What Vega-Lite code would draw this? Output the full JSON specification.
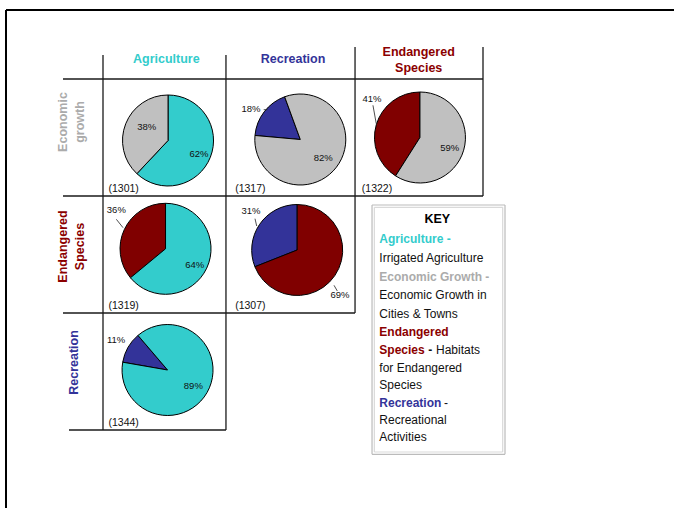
{
  "$schema": "https://vega.github.io/schema/vega-lite/v6.json",
  "width": 674,
  "height": 508,
  "autosize": "none",
  "padding": 0,
  "background": "white",
  "config": {
    "view": {"stroke": null},
    "axis": {"disable": true},
    "text": {"font": "Liberation Sans, Arial, sans-serif"}
  },
  "datasets": {
    "slices": [
      {"row": "Economic growth", "column": "Agriculture", "segment": "Agriculture", "share": 0.62},
      {"row": "Economic growth", "column": "Agriculture", "segment": "Economic Growth", "share": 0.38},
      {"row": "Economic growth", "column": "Recreation", "segment": "Recreation", "share": 0.18},
      {"row": "Economic growth", "column": "Recreation", "segment": "Economic Growth", "share": 0.82},
      {"row": "Economic growth", "column": "Endangered Species", "segment": "Endangered Species", "share": 0.41},
      {"row": "Economic growth", "column": "Endangered Species", "segment": "Economic Growth", "share": 0.59},
      {"row": "Endangered Species", "column": "Agriculture", "segment": "Endangered Species", "share": 0.36},
      {"row": "Endangered Species", "column": "Agriculture", "segment": "Agriculture", "share": 0.64},
      {"row": "Endangered Species", "column": "Recreation", "segment": "Recreation", "share": 0.31},
      {"row": "Endangered Species", "column": "Recreation", "segment": "Endangered Species", "share": 0.69},
      {"row": "Recreation", "column": "Agriculture", "segment": "Recreation", "share": 0.11},
      {"row": "Recreation", "column": "Agriculture", "segment": "Agriculture", "share": 0.89}
    ],
    "cells": [
      {"row": "Economic growth", "column": "Agriculture", "n": "(1301)"},
      {"row": "Economic growth", "column": "Recreation", "n": "(1317)"},
      {"row": "Economic growth", "column": "Endangered Species", "n": "(1322)"},
      {"row": "Endangered Species", "column": "Agriculture", "n": "(1319)"},
      {"row": "Endangered Species", "column": "Recreation", "n": "(1307)"},
      {"row": "Recreation", "column": "Agriculture", "n": "(1344)"}
    ],
    "columns": [
      {"column": "Agriculture"},
      {"column": "Recreation"},
      {"column": "Endangered Species"}
    ],
    "rows": [
      {"row": "Economic growth", "segment": "Economic Growth"},
      {"row": "Endangered Species", "segment": "Endangered Species"},
      {"row": "Recreation", "segment": "Recreation"}
    ],
    "key_heads": [
      {"line": 1, "segment": "Agriculture", "text": "Agriculture -"},
      {"line": 3, "segment": "Economic Growth", "text": "Economic Growth -"},
      {"line": 6, "segment": "Endangered Species", "text": "Endangered"},
      {"line": 7, "segment": "Endangered Species", "text": "Species"},
      {"line": 10, "segment": "Recreation", "text": "Recreation"}
    ],
    "key_body": [
      {"line": 2, "text": "Irrigated Agriculture"},
      {"line": 4, "text": "Economic Growth in"},
      {"line": 5, "text": "Cities & Towns"},
      {"line": 8, "text": "for Endangered"},
      {"line": 9, "text": "Species"},
      {"line": 11, "text": "Recreational"},
      {"line": 12, "text": "Activities"}
    ]
  },
  "layer": [
    {
      "data": {"name": "slices"},
      "encoding": {
        "x": {"field": "column", "type": "nominal", "bandPosition": 0.5, "axis": null,
              "scale": {"type": "band", "domain": ["Agriculture", "Recreation", "Endangered Species"], "range": [103, 483], "paddingInner": 0, "paddingOuter": 0}},
        "y": {"field": "row", "type": "nominal", "bandPosition": 0.5, "axis": null,
              "scale": {"type": "band", "domain": ["Economic growth", "Endangered Species", "Recreation"], "range": [79, 430], "paddingInner": 0, "paddingOuter": 0}}
      },
      "layer": [
        {
          "data": {"values": [{}]},
          "mark": {"type": "rule", "color": "#000", "strokeWidth": 2, "xOffset": -97, "x2Offset": 195, "yOffset": -69},
          "encoding": {
            "x": {"datum": "Agriculture", "bandPosition": 0, "axis": null},
            "x2": {"datum": "Endangered Species", "bandPosition": 1},
            "y": {"datum": "Economic growth", "bandPosition": 0, "axis": null}
          }
        },
        {
          "data": {"values": [{}]},
          "mark": {"type": "rule", "color": "#000", "strokeWidth": 2, "xOffset": -97, "yOffset": -69, "y2Offset": 80},
          "encoding": {
            "x": {"datum": "Agriculture", "bandPosition": 0, "axis": null},
            "y": {"datum": "Economic growth", "bandPosition": 0, "axis": null},
            "y2": {"datum": "Recreation", "bandPosition": 1}
          }
        },
        {
          "data": {"values": [{}]},
          "mark": {"type": "rule", "color": "#1a1a1a", "strokeWidth": 1.3, "yOffset": -24},
          "encoding": {
            "x": {"datum": "Agriculture", "bandPosition": 0, "axis": null},
            "y": {"datum": "Economic growth", "bandPosition": 0, "axis": null},
            "y2": {"datum": "Recreation", "bandPosition": 1}
          }
        },
        {
          "data": {"values": [{}]},
          "mark": {"type": "rule", "color": "#1a1a1a", "strokeWidth": 1.3, "yOffset": -24, "xOffset": -3.7},
          "encoding": {
            "x": {"datum": "Recreation", "bandPosition": 0, "axis": null},
            "y": {"datum": "Economic growth", "bandPosition": 0, "axis": null},
            "y2": {"datum": "Recreation", "bandPosition": 1}
          }
        },
        {
          "data": {"values": [{}]},
          "mark": {"type": "rule", "color": "#1a1a1a", "strokeWidth": 1.3, "yOffset": -32, "xOffset": -1.3},
          "encoding": {
            "x": {"datum": "Endangered Species", "bandPosition": 0, "axis": null},
            "y": {"datum": "Economic growth", "bandPosition": 0, "axis": null},
            "y2": {"datum": "Endangered Species", "bandPosition": 1}
          }
        },
        {
          "data": {"values": [{}]},
          "mark": {"type": "rule", "color": "#1a1a1a", "strokeWidth": 1.3, "yOffset": -32},
          "encoding": {
            "x": {"datum": "Endangered Species", "bandPosition": 1, "axis": null},
            "y": {"datum": "Economic growth", "bandPosition": 0, "axis": null},
            "y2": {"datum": "Economic growth", "bandPosition": 1}
          }
        },
        {
          "data": {"values": [{}]},
          "mark": {"type": "rule", "color": "#1a1a1a", "strokeWidth": 1.3, "xOffset": -40},
          "encoding": {
            "x": {"datum": "Agriculture", "bandPosition": 0, "axis": null},
            "x2": {"datum": "Endangered Species", "bandPosition": 1},
            "y": {"datum": "Economic growth", "bandPosition": 0, "axis": null}
          }
        },
        {
          "data": {"values": [{}]},
          "mark": {"type": "rule", "color": "#1a1a1a", "strokeWidth": 1.3, "xOffset": -40},
          "encoding": {
            "x": {"datum": "Agriculture", "bandPosition": 0, "axis": null},
            "x2": {"datum": "Endangered Species", "bandPosition": 1},
            "y": {"datum": "Economic growth", "bandPosition": 1, "axis": null}
          }
        },
        {
          "data": {"values": [{}]},
          "mark": {"type": "rule", "color": "#1a1a1a", "strokeWidth": 1.3, "xOffset": -40, "x2Offset": -1.3},
          "encoding": {
            "x": {"datum": "Agriculture", "bandPosition": 0, "axis": null},
            "x2": {"datum": "Endangered Species", "bandPosition": 0},
            "y": {"datum": "Endangered Species", "bandPosition": 1, "axis": null}
          }
        },
        {
          "data": {"values": [{}]},
          "mark": {"type": "rule", "color": "#1a1a1a", "strokeWidth": 1.3, "xOffset": -34, "x2Offset": -3.7},
          "encoding": {
            "x": {"datum": "Agriculture", "bandPosition": 0, "axis": null},
            "x2": {"datum": "Recreation", "bandPosition": 0},
            "y": {"datum": "Recreation", "bandPosition": 1, "axis": null}
          }
        },
        {
          "data": {"values": [{}]},
          "mark": {"type": "rule", "color": "#BBBBBB", "strokeWidth": 1.2, "xOffset": 15.7, "x2Offset": 22, "yOffset": 9},
          "encoding": {
            "x": {"datum": "Endangered Species", "bandPosition": 0, "axis": null},
            "x2": {"datum": "Endangered Species", "bandPosition": 1},
            "y": {"datum": "Endangered Species", "bandPosition": 0, "axis": null}
          }
        },
        {
          "data": {"values": [{}]},
          "mark": {"type": "rule", "color": "#BBBBBB", "strokeWidth": 1.2, "xOffset": 15.7, "x2Offset": 22, "yOffset": 24.3},
          "encoding": {
            "x": {"datum": "Endangered Species", "bandPosition": 0, "axis": null},
            "x2": {"datum": "Endangered Species", "bandPosition": 1},
            "y": {"datum": "Recreation", "bandPosition": 1, "axis": null}
          }
        },
        {
          "data": {"values": [{}]},
          "mark": {"type": "rule", "color": "#BBBBBB", "strokeWidth": 1.2, "xOffset": 15.7, "yOffset": 9, "y2Offset": 24.3},
          "encoding": {
            "x": {"datum": "Endangered Species", "bandPosition": 0, "axis": null},
            "y": {"datum": "Endangered Species", "bandPosition": 0, "axis": null},
            "y2": {"datum": "Recreation", "bandPosition": 1}
          }
        },
        {
          "data": {"values": [{}]},
          "mark": {"type": "rule", "color": "#BBBBBB", "strokeWidth": 1.2, "xOffset": 22, "yOffset": 9, "y2Offset": 24.3},
          "encoding": {
            "x": {"datum": "Endangered Species", "bandPosition": 1, "axis": null},
            "y": {"datum": "Endangered Species", "bandPosition": 0, "axis": null},
            "y2": {"datum": "Recreation", "bandPosition": 1}
          }
        },
        {
          "data": {"values": [{}]},
          "mark": {"type": "rule", "color": "#D9D9D9", "strokeWidth": 1.2, "xOffset": 18, "x2Offset": 19.7, "yOffset": 11.3},
          "encoding": {
            "x": {"datum": "Endangered Species", "bandPosition": 0, "axis": null},
            "x2": {"datum": "Endangered Species", "bandPosition": 1},
            "y": {"datum": "Endangered Species", "bandPosition": 0, "axis": null}
          }
        },
        {
          "data": {"values": [{}]},
          "mark": {"type": "rule", "color": "#D9D9D9", "strokeWidth": 1.2, "xOffset": 18, "x2Offset": 19.7, "yOffset": 22},
          "encoding": {
            "x": {"datum": "Endangered Species", "bandPosition": 0, "axis": null},
            "x2": {"datum": "Endangered Species", "bandPosition": 1},
            "y": {"datum": "Recreation", "bandPosition": 1, "axis": null}
          }
        },
        {
          "data": {"values": [{}]},
          "mark": {"type": "rule", "color": "#D9D9D9", "strokeWidth": 1.2, "xOffset": 18, "yOffset": 11.3, "y2Offset": 22},
          "encoding": {
            "x": {"datum": "Endangered Species", "bandPosition": 0, "axis": null},
            "y": {"datum": "Endangered Species", "bandPosition": 0, "axis": null},
            "y2": {"datum": "Recreation", "bandPosition": 1}
          }
        },
        {
          "data": {"values": [{}]},
          "mark": {"type": "rule", "color": "#D9D9D9", "strokeWidth": 1.2, "xOffset": 19.7, "yOffset": 11.3, "y2Offset": 22},
          "encoding": {
            "x": {"datum": "Endangered Species", "bandPosition": 1, "axis": null},
            "y": {"datum": "Endangered Species", "bandPosition": 0, "axis": null},
            "y2": {"datum": "Recreation", "bandPosition": 1}
          }
        },
        {
          "resolve": {"scale": {"theta": "independent"}},
          "layer": [
            {
              "transform": [{"filter": "datum.row=='Economic growth'&&datum.column=='Agriculture'"}],
              "mark": {"type": "arc", "outerRadius": 45.5, "stroke": "#000", "strokeWidth": 1, "xOffset": 1.7, "yOffset": 3},
              "encoding": {
                "theta": {"field": "share", "type": "quantitative", "stack": true, "scale": {"domain": [0, 1], "range": [0, 6.2832]}},
                "color": {"field": "segment", "type": "nominal", "legend": null, "scale": {"domain": ["Agriculture", "Economic Growth", "Endangered Species", "Recreation"], "range": ["#33CCCC", "#C0C0C0", "#800000", "#333399"]}}
              }
            },
            {
              "transform": [{"filter": "datum.row=='Economic growth'&&datum.column=='Recreation'"}],
              "mark": {"type": "arc", "outerRadius": 45.5, "stroke": "#000", "strokeWidth": 1, "xOffset": 7.3, "yOffset": 2},
              "encoding": {
                "theta": {"field": "share", "type": "quantitative", "stack": true, "scale": {"domain": [0, 1], "range": [5.932, 12.215]}},
                "color": {"field": "segment", "type": "nominal", "legend": null, "scale": {"domain": ["Agriculture", "Economic Growth", "Endangered Species", "Recreation"], "range": ["#33CCCC", "#C0C0C0", "#800000", "#333399"]}}
              }
            },
            {
              "transform": [{"filter": "datum.row=='Economic growth'&&datum.column=='Endangered Species'"}],
              "mark": {"type": "arc", "outerRadius": 45.5, "stroke": "#000", "strokeWidth": 1, "xOffset": 0.3, "yOffset": 0},
              "encoding": {
                "theta": {"field": "share", "type": "quantitative", "stack": true, "scale": {"domain": [0, 1], "range": [0, 6.2832]}},
                "color": {"field": "segment", "type": "nominal", "legend": null, "scale": {"domain": ["Agriculture", "Economic Growth", "Endangered Species", "Recreation"], "range": ["#33CCCC", "#C0C0C0", "#800000", "#333399"]}}
              }
            },
            {
              "transform": [{"filter": "datum.row=='Endangered Species'&&datum.column=='Agriculture'"}],
              "mark": {"type": "arc", "outerRadius": 45.5, "stroke": "#000", "strokeWidth": 1, "xOffset": -0.8, "yOffset": -5.7},
              "encoding": {
                "theta": {"field": "share", "type": "quantitative", "stack": true, "scale": {"domain": [0, 1], "range": [0, 6.2832]}},
                "color": {"field": "segment", "type": "nominal", "legend": null, "scale": {"domain": ["Agriculture", "Economic Growth", "Endangered Species", "Recreation"], "range": ["#33CCCC", "#C0C0C0", "#800000", "#333399"]}}
              }
            },
            {
              "transform": [{"filter": "datum.row=='Endangered Species'&&datum.column=='Recreation'"}],
              "mark": {"type": "arc", "outerRadius": 45.5, "stroke": "#000", "strokeWidth": 1, "xOffset": 4.2, "yOffset": -4.5},
              "encoding": {
                "theta": {"field": "share", "type": "quantitative", "stack": true, "scale": {"domain": [0, 1], "range": [0, 6.2832]}},
                "color": {"field": "segment", "type": "nominal", "legend": null, "scale": {"domain": ["Agriculture", "Economic Growth", "Endangered Species", "Recreation"], "range": ["#33CCCC", "#C0C0C0", "#800000", "#333399"]}}
              }
            },
            {
              "transform": [{"filter": "datum.row=='Recreation'&&datum.column=='Agriculture'"}],
              "mark": {"type": "arc", "outerRadius": 45.5, "stroke": "#000", "strokeWidth": 1, "xOffset": 1.2, "yOffset": -1.5},
              "encoding": {
                "theta": {"field": "share", "type": "quantitative", "stack": true, "scale": {"domain": [0, 1], "range": [5.576, 11.859]}},
                "color": {"field": "segment", "type": "nominal", "legend": null, "scale": {"domain": ["Agriculture", "Economic Growth", "Endangered Species", "Recreation"], "range": ["#33CCCC", "#C0C0C0", "#800000", "#333399"]}}
              }
            }
          ]
        },
        {"transform": [{"filter": "datum.row=='Economic growth'&&datum.column=='Agriculture'&&datum.segment=='Agriculture'"}],
         "mark": {"type": "text", "fontSize": 9.5, "color": "#111", "xOffset": 32.7, "yOffset": 16.8},
         "encoding": {"text": {"field": "share", "type": "quantitative", "format": ".0%"}}},
        {"transform": [{"filter": "datum.row=='Economic growth'&&datum.column=='Agriculture'&&datum.segment=='Economic Growth'"}],
         "mark": {"type": "text", "fontSize": 9.5, "color": "#111", "xOffset": -19.6, "yOffset": -10.2},
         "encoding": {"text": {"field": "share", "type": "quantitative", "format": ".0%"}}},
        {"transform": [{"filter": "datum.row=='Economic growth'&&datum.column=='Recreation'&&datum.segment=='Recreation'"}],
         "mark": {"type": "text", "fontSize": 9.5, "color": "#111", "xOffset": -42, "yOffset": -28.5},
         "encoding": {"text": {"field": "share", "type": "quantitative", "format": ".0%"}}},
        {"transform": [{"filter": "datum.row=='Economic growth'&&datum.column=='Recreation'&&datum.segment=='Economic Growth'"}],
         "mark": {"type": "text", "fontSize": 9.5, "color": "#111", "xOffset": 30.3, "yOffset": 20.8},
         "encoding": {"text": {"field": "share", "type": "quantitative", "format": ".0%"}}},
        {"transform": [{"filter": "datum.row=='Economic growth'&&datum.column=='Endangered Species'&&datum.segment=='Endangered Species'"}],
         "mark": {"type": "text", "fontSize": 9.5, "color": "#111", "xOffset": -47.7, "yOffset": -38.8},
         "encoding": {"text": {"field": "share", "type": "quantitative", "format": ".0%"}}},
        {"transform": [{"filter": "datum.row=='Economic growth'&&datum.column=='Endangered Species'&&datum.segment=='Economic Growth'"}],
         "mark": {"type": "text", "fontSize": 9.5, "color": "#111", "xOffset": 30, "yOffset": 10.2},
         "encoding": {"text": {"field": "share", "type": "quantitative", "format": ".0%"}}},
        {"transform": [{"filter": "datum.row=='Endangered Species'&&datum.column=='Agriculture'&&datum.segment=='Endangered Species'"}],
         "mark": {"type": "text", "fontSize": 9.5, "color": "#111", "xOffset": -50, "yOffset": -44.5},
         "encoding": {"text": {"field": "share", "type": "quantitative", "format": ".0%"}}},
        {"transform": [{"filter": "datum.row=='Endangered Species'&&datum.column=='Agriculture'&&datum.segment=='Agriculture'"}],
         "mark": {"type": "text", "fontSize": 9.5, "color": "#111", "xOffset": 28.4, "yOffset": 10.8},
         "encoding": {"text": {"field": "share", "type": "quantitative", "format": ".0%"}}},
        {"transform": [{"filter": "datum.row=='Endangered Species'&&datum.column=='Recreation'&&datum.segment=='Recreation'"}],
         "mark": {"type": "text", "fontSize": 9.5, "color": "#111", "xOffset": -42, "yOffset": -43.5},
         "encoding": {"text": {"field": "share", "type": "quantitative", "format": ".0%"}}},
        {"transform": [{"filter": "datum.row=='Endangered Species'&&datum.column=='Recreation'&&datum.segment=='Endangered Species'"}],
         "mark": {"type": "text", "fontSize": 9.5, "color": "#111", "xOffset": 47, "yOffset": 40.8},
         "encoding": {"text": {"field": "share", "type": "quantitative", "format": ".0%"}}},
        {"transform": [{"filter": "datum.row=='Recreation'&&datum.column=='Agriculture'&&datum.segment=='Recreation'"}],
         "mark": {"type": "text", "fontSize": 9.5, "color": "#111", "xOffset": -50.3, "yOffset": -31.8},
         "encoding": {"text": {"field": "share", "type": "quantitative", "format": ".0%"}}},
        {"transform": [{"filter": "datum.row=='Recreation'&&datum.column=='Agriculture'&&datum.segment=='Agriculture'"}],
         "mark": {"type": "text", "fontSize": 9.5, "color": "#111", "xOffset": 27, "yOffset": 14.2},
         "encoding": {"text": {"field": "share", "type": "quantitative", "format": ".0%"}}},
        {
          "data": {"values": [{}]},
          "mark": {"type": "rule", "color": "#222", "strokeWidth": 0.8, "xOffset": -29.3, "yOffset": -27.8, "x2Offset": -25.6, "y2Offset": -27.8},
          "encoding": {
            "x": {"datum": "Recreation", "bandPosition": 0.5, "axis": null},
            "x2": {"datum": "Recreation", "bandPosition": 0.5},
            "y": {"datum": "Economic growth", "bandPosition": 0.5, "axis": null},
            "y2": {"datum": "Economic growth", "bandPosition": 0.5}
          }
        },
        {
          "data": {"values": [{}]},
          "mark": {"type": "rule", "color": "#222", "strokeWidth": 0.8, "xOffset": -46.7, "yOffset": -32.2, "x2Offset": -43.4, "y2Offset": -13.8},
          "encoding": {
            "x": {"datum": "Endangered Species", "bandPosition": 0.5, "axis": null},
            "x2": {"datum": "Endangered Species", "bandPosition": 0.5},
            "y": {"datum": "Economic growth", "bandPosition": 0.5, "axis": null},
            "y2": {"datum": "Economic growth", "bandPosition": 0.5}
          }
        },
        {
          "data": {"values": [{}]},
          "mark": {"type": "rule", "color": "#222", "strokeWidth": 0.8, "xOffset": -50, "yOffset": -35.2, "x2Offset": -43.3, "y2Offset": -26.8},
          "encoding": {
            "x": {"datum": "Agriculture", "bandPosition": 0.5, "axis": null},
            "x2": {"datum": "Agriculture", "bandPosition": 0.5},
            "y": {"datum": "Endangered Species", "bandPosition": 0.5, "axis": null},
            "y2": {"datum": "Endangered Species", "bandPosition": 0.5}
          }
        },
        {
          "data": {"values": [{}]},
          "mark": {"type": "rule", "color": "#222", "strokeWidth": 0.8, "xOffset": -38, "yOffset": -35.8, "x2Offset": -36.3, "y2Offset": -28.5},
          "encoding": {
            "x": {"datum": "Recreation", "bandPosition": 0.5, "axis": null},
            "x2": {"datum": "Recreation", "bandPosition": 0.5},
            "y": {"datum": "Endangered Species", "bandPosition": 0.5, "axis": null},
            "y2": {"datum": "Endangered Species", "bandPosition": 0.5}
          }
        },
        {
          "data": {"values": [{}]},
          "mark": {"type": "rule", "color": "#222", "strokeWidth": 0.8, "xOffset": 41, "yOffset": 30.8, "x2Offset": 44.3, "y2Offset": 36.5},
          "encoding": {
            "x": {"datum": "Recreation", "bandPosition": 0.5, "axis": null},
            "x2": {"datum": "Recreation", "bandPosition": 0.5},
            "y": {"datum": "Endangered Species", "bandPosition": 0.5, "axis": null},
            "y2": {"datum": "Endangered Species", "bandPosition": 0.5}
          }
        },
        {
          "data": {"name": "cells"},
          "mark": {"type": "text", "align": "left", "baseline": "middle", "fontSize": 10.5, "color": "#111", "xOffset": 5.5, "yOffset": -7},
          "encoding": {
            "x": {"field": "column", "type": "nominal", "bandPosition": 0, "axis": null},
            "y": {"field": "row", "type": "nominal", "bandPosition": 1, "axis": null},
            "text": {"field": "n"}
          }
        },
        {
          "data": {"name": "columns"},
          "transform": [{"filter": "datum.column!='Endangered Species'"}],
          "mark": {"type": "text", "fontSize": 12.5, "fontWeight": "bold", "baseline": "middle", "yOffset": -20},
          "encoding": {
            "y": {"datum": "Economic growth", "bandPosition": 0, "axis": null},
            "text": {"field": "column"},
            "fill": {"field": "column", "type": "nominal", "legend": null, "scale": {"domain": ["Agriculture", "Economic Growth", "Endangered Species", "Recreation"], "range": ["#33CCCC", "#ABABAB", "#8B0000", "#333399"]}}
          }
        },
        {
          "data": {"name": "columns"},
          "transform": [{"filter": "datum.column=='Endangered Species'"}],
          "mark": {"type": "text", "fontSize": 12.5, "fontWeight": "bold", "lineBreak": " ", "lineHeight": 16.5, "baseline": "middle", "yOffset": -27.5, "xOffset": -1},
          "encoding": {
            "y": {"datum": "Economic growth", "bandPosition": 0, "axis": null},
            "text": {"field": "column"},
            "fill": {"field": "column", "type": "nominal", "legend": null, "scale": {"domain": ["Agriculture", "Economic Growth", "Endangered Species", "Recreation"], "range": ["#33CCCC", "#ABABAB", "#8B0000", "#333399"]}}
          }
        },
        {
          "data": {"name": "rows"},
          "transform": [{"filter": "datum.row=='Economic growth'"}],
          "mark": {"type": "text", "fontSize": 12.5, "fontWeight": "bold", "lineBreak": " ", "lineHeight": 17.5, "baseline": "middle", "align": "center", "angle": 270, "xOffset": -40.5, "yOffset": -15.5},
          "encoding": {
            "x": {"datum": "Agriculture", "bandPosition": 0, "axis": null},
            "text": {"field": "row"},
            "fill": {"field": "segment", "type": "nominal", "legend": null, "scale": {"domain": ["Agriculture", "Economic Growth", "Endangered Species", "Recreation"], "range": ["#33CCCC", "#ABABAB", "#8B0000", "#333399"]}}
          }
        },
        {
          "data": {"name": "rows"},
          "transform": [{"filter": "datum.row=='Endangered Species'"}],
          "mark": {"type": "text", "fontSize": 12.5, "fontWeight": "bold", "lineBreak": " ", "lineHeight": 17.5, "baseline": "middle", "align": "center", "angle": 270, "xOffset": -40.5, "yOffset": -8},
          "encoding": {
            "x": {"datum": "Agriculture", "bandPosition": 0, "axis": null},
            "text": {"field": "row"},
            "fill": {"field": "segment", "type": "nominal", "legend": null, "scale": {"domain": ["Agriculture", "Economic Growth", "Endangered Species", "Recreation"], "range": ["#33CCCC", "#ABABAB", "#8B0000", "#333399"]}}
          }
        },
        {
          "data": {"name": "rows"},
          "transform": [{"filter": "datum.row=='Recreation'"}],
          "mark": {"type": "text", "fontSize": 12.5, "fontWeight": "bold", "baseline": "middle", "align": "center", "angle": 270, "xOffset": -29.2, "yOffset": -9},
          "encoding": {
            "x": {"datum": "Agriculture", "bandPosition": 0, "axis": null},
            "text": {"field": "row"},
            "fill": {"field": "segment", "type": "nominal", "legend": null, "scale": {"domain": ["Agriculture", "Economic Growth", "Endangered Species", "Recreation"], "range": ["#33CCCC", "#ABABAB", "#8B0000", "#333399"]}}
          }
        }
      ]
    },
    {
      "encoding": {
        "x": {"datum": 0.055, "type": "quantitative", "axis": null, "scale": {"type": "linear", "domain": [0, 1], "range": [372, 505], "zero": false, "nice": false}},
        "y": {"field": "line", "type": "quantitative", "axis": null, "scale": {"type": "linear", "domain": [0, 1, 3, 6, 10, 12], "range": [219, 239, 277.3, 331.7, 403.3, 436.7], "zero": false, "nice": false}}
      },
      "layer": [
        {
          "data": {"values": [{"line": 0, "text": "KEY"}]},
          "mark": {"type": "text", "fontSize": 12.5, "fontWeight": "bold", "align": "center", "baseline": "middle", "color": "#000"},
          "encoding": {
            "x": {"datum": 0.491, "type": "quantitative", "axis": null},
            "text": {"field": "text"}
          }
        },
        {
          "data": {"name": "key_heads"},
          "mark": {"type": "text", "fontSize": 12, "fontWeight": "bold", "align": "left", "baseline": "middle"},
          "encoding": {
            "text": {"field": "text"},
            "fill": {"field": "segment", "type": "nominal", "legend": null, "scale": {"domain": ["Agriculture", "Economic Growth", "Endangered Species", "Recreation"], "range": ["#33CCCC", "#ABABAB", "#8B0000", "#333399"]}}
          }
        },
        {
          "data": {"name": "key_body"},
          "mark": {"type": "text", "fontSize": 12, "align": "left", "baseline": "middle", "color": "#111"},
          "encoding": {"text": {"field": "text"}}
        },
        {
          "data": {"values": [{"line": 7, "text": "-"}]},
          "mark": {"type": "text", "fontSize": 12, "fontWeight": "bold", "align": "left", "baseline": "middle", "color": "#111"},
          "encoding": {
            "x": {"datum": 0.423, "type": "quantitative", "axis": null},
            "text": {"field": "text"}
          }
        },
        {
          "data": {"values": [{"line": 7, "text": "Habitats"}]},
          "mark": {"type": "text", "fontSize": 12, "align": "left", "baseline": "middle", "color": "#111"},
          "encoding": {
            "x": {"datum": 0.481, "type": "quantitative", "axis": null},
            "text": {"field": "text"}
          }
        },
        {
          "data": {"values": [{"line": 10, "text": "-"}]},
          "mark": {"type": "text", "fontSize": 12, "align": "left", "baseline": "middle", "color": "#111"},
          "encoding": {
            "x": {"datum": 0.541, "type": "quantitative", "axis": null},
            "text": {"field": "text"}
          }
        }
      ]
    }
  ],
  "resolve": {"scale": {"x": "independent", "y": "independent"}}
}
